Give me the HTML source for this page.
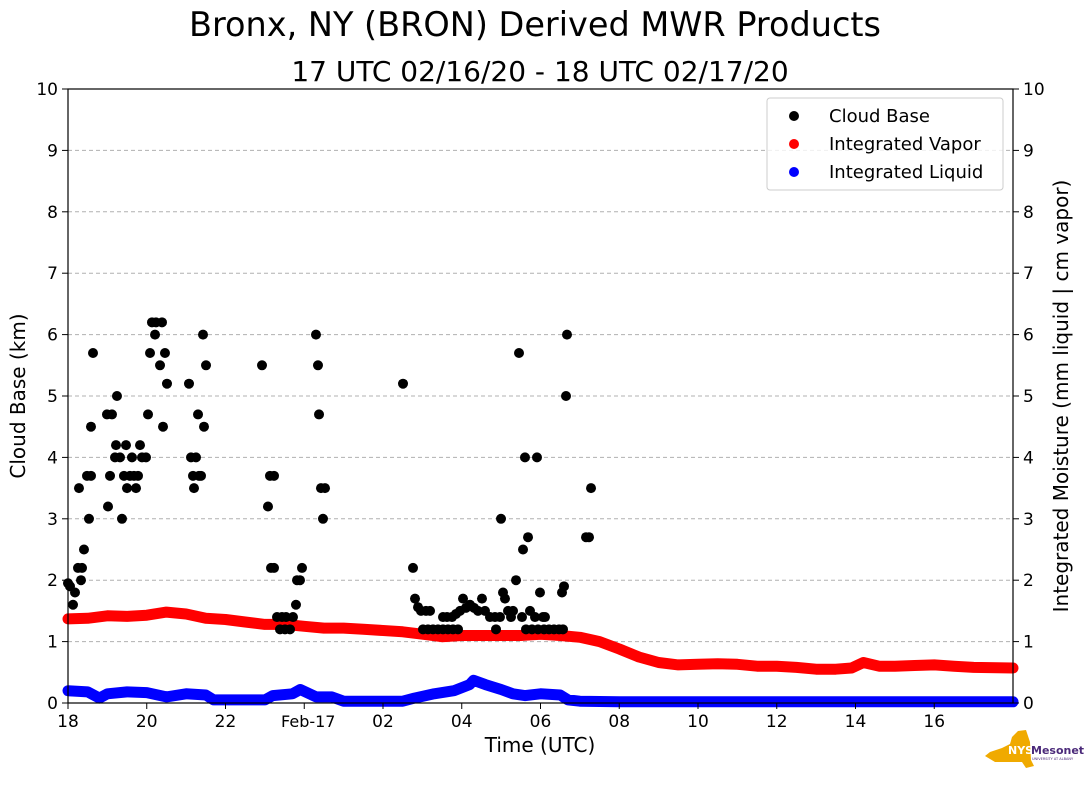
<!DOCTYPE html>
<html><head><meta charset="utf-8"><style>
html,body{margin:0;padding:0;background:#fff;}
svg{display:block;font-family:"DejaVu Sans","Liberation Sans",sans-serif;}
</style></head><body>
<svg id="c" width="1089" height="804" viewBox="0 0 1089 804">
<text x="535" y="36" font-size="33.5" text-anchor="middle">Bronx, NY (BRON) Derived MWR Products</text>
<text x="540" y="81" font-size="28" text-anchor="middle">17 UTC 02/16/20 - 18 UTC 02/17/20</text>
<g id="grid"></g>
<g id="series"></g>
<rect x="68" y="89" width="945" height="614" fill="none" stroke="#000" stroke-width="1.2"/>
<g id="axes"></g>
<text x="540" y="752" font-size="20" text-anchor="middle">Time (UTC)</text>
<text transform="translate(25,396) rotate(-90)" font-size="20" text-anchor="middle">Cloud Base (km)</text>
<text transform="translate(1068,396) rotate(-90)" font-size="20" text-anchor="middle">Integrated Moisture (mm liquid | cm vapor)</text>
<g>
<rect x="767" y="98" width="236" height="92" rx="3" fill="#fff" fill-opacity="0.8" stroke="#ccc"/>
<circle cx="794" cy="116" r="5" fill="#000"/>
<text x="829" y="122" font-size="18">Cloud Base</text>
<circle cx="794" cy="144" r="5" fill="#f00"/>
<text x="829" y="150" font-size="18">Integrated Vapor</text>
<circle cx="794" cy="172" r="5" fill="#00f"/>
<text x="829" y="178" font-size="18">Integrated Liquid</text>
</g>
<g>
<path d="M990 752 L1002 748 L1010 744 L1012 737 L1018 731 L1026 730 L1030 742 L1031 760 L1034 766 L1026 768 L1022 762 L995 762 L985 756 Z" fill="#f0aa00"/>
<text x="1008" y="754" font-size="11" font-weight="bold" fill="#fff">NYS</text>
<text x="1031" y="754" font-size="11" font-weight="bold" fill="#4b2a7a">Mesonet</text>
<text x="1032" y="760" font-size="3.5" fill="#4b2a7a">UNIVERSITY AT ALBANY</text>
</g>
</svg>
<script>
const xTickHours=[0,2,4,6,8,10,12,14,16,18,20,22];
const xTickLabels=["18","20","22","Feb-17","02","04","06","08","10","12","14","16"];
const yTicks=[0,1,2,3,4,5,6,7,8,9,10];
const cloudHours=[];
const cloudKm=[];
const cloudPx=[[68,1.95],[70,1.9],[73,1.6],[75,1.8],[78,2.2],[79,3.5],[81,2.0],[82,2.2],[84,2.5],[87,3.7],[89,3.0],[91,3.7],[91,4.5],[93,5.7],[107,4.7],[108,3.2],[110,3.7],[112,4.7],[115,4.0],[116,4.2],[117,5.0],[120,4.0],[122,3.0],[124,3.7],[126,4.2],[127,3.5],[130,3.7],[132,4.0],[134,3.7],[136,3.5],[138,3.7],[140,4.2],[142,4.0],[146,4.0],[148,4.7],[150,5.7],[152,6.2],[155,6.0],[156,6.2],[160,5.5],[162,6.2],[163,4.5],[165,5.7],[167,5.2],[189,5.2],[191,4.0],[193,3.7],[194,3.5],[196,4.0],[198,4.7],[199,3.7],[201,3.7],[203,6.0],[204,4.5],[206,5.5],[262,5.5],[268,3.2],[270,3.7],[271,2.2],[274,2.2],[274,3.7],[277,1.4],[280,1.2],[282,1.4],[285,1.2],[286,1.4],[290,1.2],[293,1.4],[296,1.6],[297,2.0],[300,2.0],[302,2.2],[316,6.0],[318,5.5],[319,4.7],[321,3.5],[325,3.5],[323,3.0],[403,5.2],[413,2.2],[415,1.7],[418,1.56],[421,1.5],[426,1.5],[430,1.5],[423,1.2],[428,1.2],[433,1.2],[438,1.2],[443,1.4],[447,1.4],[452,1.4],[443,1.2],[448,1.2],[453,1.2],[458,1.2],[456,1.45],[460,1.5],[463,1.7],[466,1.55],[470,1.6],[474,1.55],[478,1.5],[482,1.7],[485,1.5],[490,1.4],[495,1.4],[500,1.4],[496,1.2],[501,3.0],[503,1.8],[505,1.7],[508,1.5],[511,1.4],[513,1.5],[516,2.0],[519,5.7],[522,1.4],[523,2.5],[525,4.0],[526,1.2],[528,2.7],[530,1.5],[532,1.2],[535,1.4],[537,4.0],[540,1.8],[538,1.2],[543,1.4],[545,1.4],[544,1.2],[549,1.2],[554,1.2],[559,1.2],[563,1.2],[562,1.8],[564,1.9],[566,5.0],[567,6.0],[586,2.7],[589,2.7],[591,3.5]];
cloudPx.forEach(p=>{cloudHours.push(+((p[0]-68)/39.375).toFixed(3));cloudKm.push(p[1]);});
const vaporHours=[0,0.5,1,1.5,2,2.5,3,3.5,4,4.5,5,5.5,6,6.5,7,7.5,8,8.5,9,9.5,10,10.5,11,11.5,12,12.5,13,13.5,14,14.5,15,15.5,16,16.5,17,17.5,18,18.5,19,19.5,19.9,20.2,20.6,21,21.5,22,22.5,23,24];
const vaporVals=[1.37,1.38,1.42,1.41,1.43,1.48,1.45,1.38,1.36,1.32,1.28,1.28,1.25,1.22,1.22,1.2,1.18,1.16,1.12,1.08,1.1,1.1,1.1,1.1,1.12,1.1,1.07,1.0,0.88,0.75,0.66,0.62,0.63,0.64,0.63,0.6,0.6,0.58,0.55,0.55,0.57,0.66,0.6,0.6,0.61,0.62,0.6,0.58,0.57];
const liquidHours=[0,0.5,0.8,1,1.5,2,2.5,3,3.5,3.7,5,5.2,5.7,5.9,6.3,6.7,7,8.5,8.8,9.3,9.8,10.2,10.3,10.6,11,11.3,11.6,12,12.5,12.7,13,14,24];
const liquidVals=[0.2,0.18,0.08,0.15,0.18,0.17,0.1,0.15,0.13,0.05,0.05,0.12,0.15,0.22,0.1,0.1,0.03,0.03,0.08,0.15,0.2,0.3,0.37,0.3,0.22,0.15,0.12,0.15,0.13,0.05,0.03,0.02,0.02];

const NS="http://www.w3.org/2000/svg";
const X=h=>68+h*945/24, Y=v=>703-v*61.4;
function mk(t,a,p){const e=document.createElementNS(NS,t);for(const k in a)e.setAttribute(k,a[k]);p.appendChild(e);return e;}
const grid=document.getElementById('grid'),axes=document.getElementById('axes'),ser=document.getElementById('series');
yTicks.forEach(v=>{
  if(v>0&&v<10){const g=mk('line',{x1:68,x2:1013,y1:Y(v),y2:Y(v),stroke:'#b0b0b0','stroke-dasharray':'4,3','stroke-width':1},grid);
  
  }
  [[68,-6,'end',-10],[1013,6,'start',10]].forEach(s=>{
    const t=mk('line',{x1:s[0],x2:s[0]+s[1],y1:Y(v),y2:Y(v),stroke:'#000'},axes);
    
    
    const l=mk('text',{x:s[0]+s[3],y:Y(v)+6,'font-size':17,'text-anchor':s[2]},axes);l.textContent=v;
    
    
  });
});
xTickHours.forEach((h,i)=>{
  const t=mk('line',{x1:X(h),x2:X(h),y1:703,y2:709,stroke:'#000'},axes);
  
  
  const l=mk('text',{x:X(h)+(i==3?4:0),y:727,'font-size':i==3?16:17,'text-anchor':'middle'},axes);l.textContent=xTickLabels[i];
  
  
});
function line(hs,vs,col,name){
  const pts=hs.map((h,i)=>X(h).toFixed(1)+','+Y(vs[i]).toFixed(1)).join(' ');
  const p=mk('polyline',{points:pts,fill:'none',stroke:col,'stroke-width':11,'stroke-linejoin':'round','stroke-linecap':'round'},ser);
  
  
}
line(liquidHours,liquidVals,'#00f','integrated-liquid-line');
line(vaporHours,vaporVals,'#f00','integrated-vapor-line');
cloudHours.forEach((h,i)=>{
  const c=mk('circle',{cx:X(h),cy:Y(cloudKm[i]),r:5,fill:'#000'},ser);
  
  
});
</script>
</body></html>
